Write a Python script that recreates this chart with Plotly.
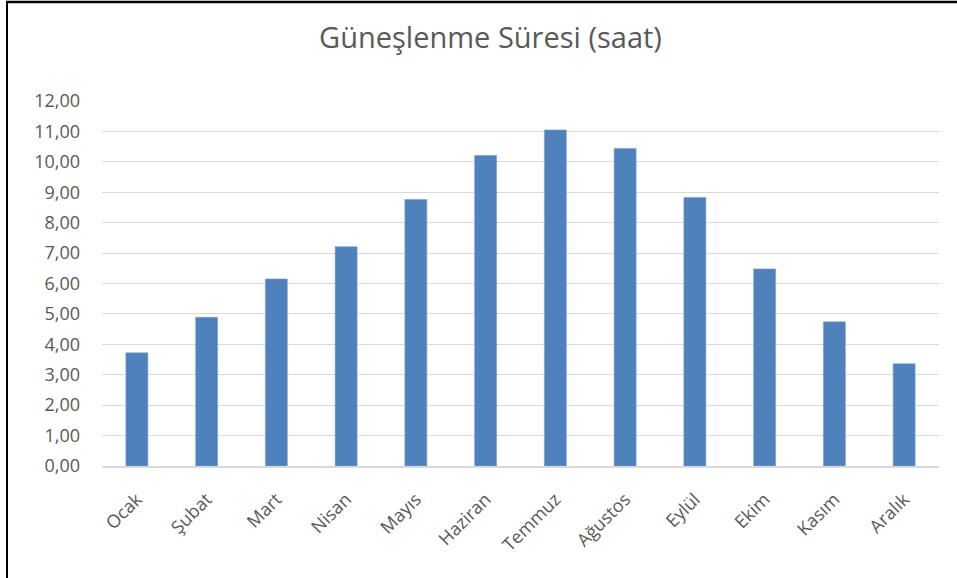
import plotly.graph_objects as go

months = ["Ocak", "Şubat", "Mart", "Nisan", "Mayıs", "Haziran", "Temmuz",
          "Ağustos", "Eylül", "Ekim", "Kasım", "Aralık"]
sun_hours = [3.72, 4.89, 6.15, 7.21, 8.76, 10.21, 11.05, 10.44, 8.83, 6.48, 4.74, 3.36]
y_ticks = [0, 1, 2, 3, 4, 5, 6, 7, 8, 9, 10, 11, 12]
y_tick_labels = ["0,00", "1,00", "2,00", "3,00", "4,00", "5,00", "6,00",
                 "7,00", "8,00", "9,00", "10,00", "11,00", "12,00"]

W, H = 957, 578
ML, MR, MT, MB = 102, 18, 101, 112
PW, PH = W - ML - MR, H - MT - MB

fig = go.Figure(go.Bar(
    x=months, y=sun_hours,
    marker=dict(color="#4f81bd", line=dict(color="#7aa0d4", width=0.6)),
))

fig.update_layout(
    width=W, height=H,
    margin=dict(l=ML, r=MR, t=MT, b=MB, pad=0),
    paper_bgcolor="white", plot_bgcolor="white",
    bargap=0.685,
    showlegend=False,
    font=dict(family="Open Sans, Calibri, sans-serif", color="#595959"),
    title=dict(text="Güneşlenme Süresi (saat)", xref="container", x=490.5 / W,
               xanchor="center", yref="container", y=1 - 38 / H, yanchor="middle",
               font=dict(size=29, color="#595959")),
    xaxis=dict(showgrid=False, showline=True, linecolor="#d9d9d9", linewidth=1.5,
               tickangle=-45, tickfont=dict(size=18, color="#595959"),
               ticks="", ticklen=0, ticklabelstandoff=14),
    yaxis=dict(range=[0, 12], tickvals=y_ticks, ticktext=y_tick_labels,
               showgrid=True, gridcolor="#d9d9d9", gridwidth=1.3,
               zeroline=False, showline=False, ticks="",
               tickfont=dict(size=18, color="#595959"), ticklabelstandoff=21),
    shapes=[
        dict(type="line", xref="paper", yref="paper",
             x0=-(ML - 7) / PW, x1=-(ML - 7) / PW,
             y0=-MB / PH, y1=(H - MB - 1) / PH,
             line=dict(color="black", width=2)),
        dict(type="line", xref="paper", yref="paper",
             x0=-(ML - 6) / PW, x1=(W - ML) / PW,
             y0=(H - MB - 2) / PH, y1=(H - MB - 2) / PH,
             line=dict(color="black", width=2.5)),
    ],
)

fig.write_html("out.html", config={"displayModeBar": False},
               post_script="document.body.style.margin='0';")
